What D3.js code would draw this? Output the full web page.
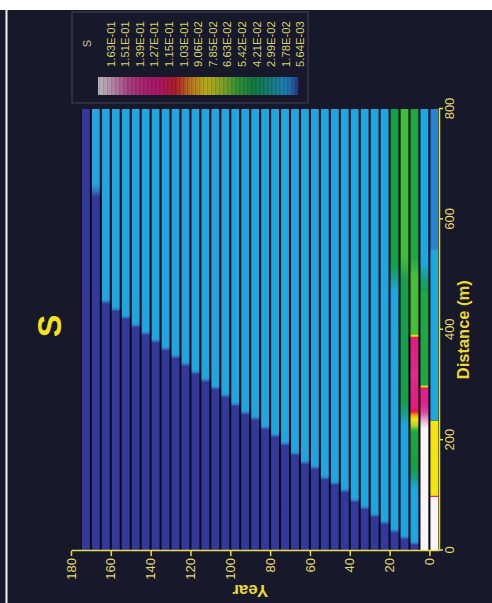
<!DOCTYPE html>
<html><head><meta charset="utf-8">
<script src="https://cdn.jsdelivr.net/npm/d3@7"></script>
<style>html,body{margin:0;padding:0;background:#17182a;} svg{display:block}</style>
</head><body>
<svg id="chart" width="492" height="603"></svg>
<script>
// ---------- data ----------
const years = [175,170,165,160,155,150,145,140,135,130,125,120,115,110,105,100,95,90,85,80,75,70,65,60,55,50,45,40,35,30,25,20,15,10,5,0];
// distance (m) where the low (dark blue) zone ends and background (light blue) begins, per year
const frontDistance = [800,653,451,437,423,408,394,380,366,352,338,323,309,295,281,265,250,240,223,209,194,176,160,151,132,122,109,91,78,64,51,36,24,13,0,0];
const lowValue = 0.00564;
const backgroundValue = 0.0178;
// detailed profiles [distance, S] read for the earliest years and the 170-year column
const profileYear170 = [[0,0.00564],[641,0.00564],[666,0.0178],[800,0.0178]];
const profileYear20 = [[0,0.00564],[32,0.00564],[40,0.0178],[470,0.0178],[520,0.0421],[800,0.0421]];
const profileYear15 = [[0,0.00564],[20,0.00564],[28,0.0178],[225,0.0178],[270,0.042],[490,0.042],[530,0.054],[800,0.054]];
const profileYear10 = [[0,0.00564],[10,0.00564],[17,0.0178],[112,0.0178],[148,0.042],[215,0.045],[226,0.066],[238,0.0785],[248,0.095],[258,0.118],[320,0.13],[384,0.118],[392,0.055],[500,0.055],[530,0.045],[800,0.045]];
const profileYear5 = [[0,0.163],[222,0.163],[262,0.128],[293,0.121],[300,0.045],[465,0.045],[520,0.0178],[800,0.0178]];
const profileYear0 = [[0,0.163],[96,0.163],[100,0.0785],[234,0.0785],[237,0.0178],[543,0.0178],[548,0.012],[800,0.012]];

const legendValues = [0.163,0.151,0.139,0.127,0.115,0.103,0.0906,0.0785,0.0663,0.0542,0.0421,0.0299,0.0178,0.00564];
const legendLabels = ["1.63E-01","1.51E-01","1.39E-01","1.27E-01","1.15E-01","1.03E-01","9.06E-02","7.85E-02","6.63E-02","5.42E-02","4.21E-02","2.99E-02","1.78E-02","5.64E-03"];
const colorValues = [0.00564,0.012,0.0178,0.0299,0.0421,0.0542,0.0663,0.0785,0.0906,0.103,0.115,0.127,0.139,0.151,0.163];
const colorList = ["#33399c","#2a82d4","#1fa6e0","#16a08c","#16a046","#3fbe3a","#b0d428","#f4e412","#f49a1c","#e3202c","#e5177b","#e02488","#dc4ca0","#eea8d0","#fbf5f9"];
const yearTicks = [0,20,40,60,80,100,120,140,160,180];
const distanceTicks = [0,200,400,600,800];
const titleText = "S";
const xTitle = "Distance (m)";
const yTitle = "Year";
const legendTitle = "S";

// ---------- drawing ----------
const W = 492, H = 603;
const svg = d3.select("#chart");
svg.append("rect").attr("width",W).attr("height",H).attr("fill","#17182a");
svg.append("rect").attr("x",0).attr("y",0).attr("width",W).attr("height",10).attr("fill","#ffffff");
svg.append("rect").attr("x",5.5).attr("y",10).attr("width",2).attr("height",H-10).attr("fill","#f4f4f4");

// the chart is drawn in its own frame and turned a quarter turn
const g = svg.append("g").attr("transform",`translate(0,${H}) rotate(-90)`);
const defs = svg.append("defs");

const ds = d3.scaleLinear().domain([0,800]).range([52.5,494]);     // distance -> u
const ys = d3.scaleLinear().domain([-4.8,180]).range([439,71]);    // year -> v
const color = d3.scaleLinear().domain(colorValues).range(colorList).interpolate(d3.interpolateRgb).clamp(true);

function profileFor(i){
  const y = years[i];
  if (y===0) return profileYear0;
  if (y===5) return profileYear5;
  if (y===10) return profileYear10;
  if (y===15) return profileYear15;
  if (y===20) return profileYear20;
  if (y===170) return profileYear170;
  const f = frontDistance[i];
  if (f>=800) return [[0,lowValue],[800,lowValue]];
  return [[0,lowValue],[f-4,lowValue],[f+4,backgroundValue],[800,backgroundValue]];
}
function gradientStops(knots){
  const out=[];
  knots.forEach((kn,i)=>{
    if(i>0){
      const [d0,v0]=knots[i-1], [d1,v1]=kn, n=10;
      for(let j=1;j<n;j++){const t=j/n; out.push([d0+(d1-d0)*t, v0+(v1-v0)*t]);}
    }
    out.push(kn);
  });
  return out;
}

// dark gaps behind the bands
g.append("rect").attr("x",ds(0)).attr("width",ds(800)-ds(0))
  .attr("y",ys(175)).attr("height",ys(-5)-ys(175)).attr("fill","#0c0c16");

years.forEach((y,i)=>{
  const id="grad"+i;
  const gr=defs.append("linearGradient").attr("id",id).attr("gradientUnits","userSpaceOnUse")
    .attr("x1",ds(0)).attr("x2",ds(800)).attr("y1",0).attr("y2",0);
  gradientStops(profileFor(i)).forEach(([d,v])=>{
    gr.append("stop").attr("offset",Math.max(0,Math.min(1,d/800))).attr("stop-color",color(v));
  });
  g.append("rect").attr("x",ds(0)).attr("width",ds(800)-ds(0))
    .attr("y",ys(y)+1.0).attr("height",(ys(y-5)-1.1)-(ys(y)+1.0))
    .attr("fill",`url(#${id})`);
});

// axes
const axisColor="#e8e040", tickText="#e2d970";
const yAxis = g.append("g").attr("transform",`translate(${ds(0)-0.5},0)`)
  .call(d3.axisLeft(ys).tickValues(yearTicks).tickSize(5).tickPadding(2).tickSizeOuter(0));
const xAxis = g.append("g").attr("transform",`translate(0,${ys(-4.8)})`)
  .call(d3.axisBottom(ds).tickValues(distanceTicks).tickSize(4).tickPadding(2).tickSizeOuter(0));
[yAxis,xAxis].forEach(a=>{
  a.selectAll("path,line").attr("stroke",axisColor).attr("stroke-width",1.5);
  a.selectAll("text").attr("fill",tickText).style("font-family","'Liberation Sans',Arial,sans-serif").style("font-size","13px");
});

// titles
g.append("text").attr("x",277).attr("y",61).attr("text-anchor","middle")
  .attr("fill","#f2e31c").style("font-family","'Liberation Sans',Arial,sans-serif")
  .style("font-weight","bold").style("font-size","34px").text(titleText);
g.append("text").attr("x",ds(400)).attr("y",469).attr("text-anchor","middle")
  .attr("fill","#ebd92e").style("font-family","'Liberation Sans',Arial,sans-serif")
  .style("font-weight","bold").style("font-size","16.5px").text(xTitle);
g.append("text").attr("transform",`translate(18,${ys(90)}) rotate(-90)`).attr("text-anchor","middle")
  .attr("fill","#e8d83a").style("font-family","'Liberation Sans',Arial,sans-serif")
  .style("font-weight","bold").style("font-size","17px").text(yTitle);

// legend
g.append("rect").attr("x",500).attr("y",72).attr("width",91).attr("height",236)
  .attr("fill","#17182a").attr("stroke","#44455a").attr("stroke-width",1);
const lv = d3.scaleLinear().domain([legendValues[0],legendValues[legendValues.length-1]]).range([98,298]);
const barSteps = d3.range(0,100);
barSteps.forEach(s=>{
  const v = lv.invert(98+s*2);
  g.append("rect").attr("x",508).attr("width",18).attr("y",98+s*2).attr("height",2.2)
    .attr("fill",color(v)).attr("fill-opacity",0.7);
});
barSteps.filter(s=>s%2===0).forEach(s=>{
  g.append("rect").attr("x",508).attr("width",18).attr("y",98+s*2+1.6).attr("height",0.6)
    .attr("fill","#000").attr("fill-opacity",0.3);
});
const lp = d3.scalePoint().domain(legendLabels).range([110.8,300.3]);
g.append("text").attr("x",559.5).attr("y",87).attr("dy","0.35em").attr("text-anchor","middle")
  .attr("fill","#c9c6a0").style("font-family","'Liberation Sans',Arial,sans-serif").style("font-size","11px").text(legendTitle);
g.selectAll(".lab").data(legendLabels).enter().append("text")
  .attr("x",536).attr("y",d=>lp(d)).attr("dy","0.35em")
  .attr("fill","#d8d172").style("font-family","'Liberation Sans',Arial,sans-serif").style("font-size","11.3px")
  .text(d=>d);
</script>
</body></html>
